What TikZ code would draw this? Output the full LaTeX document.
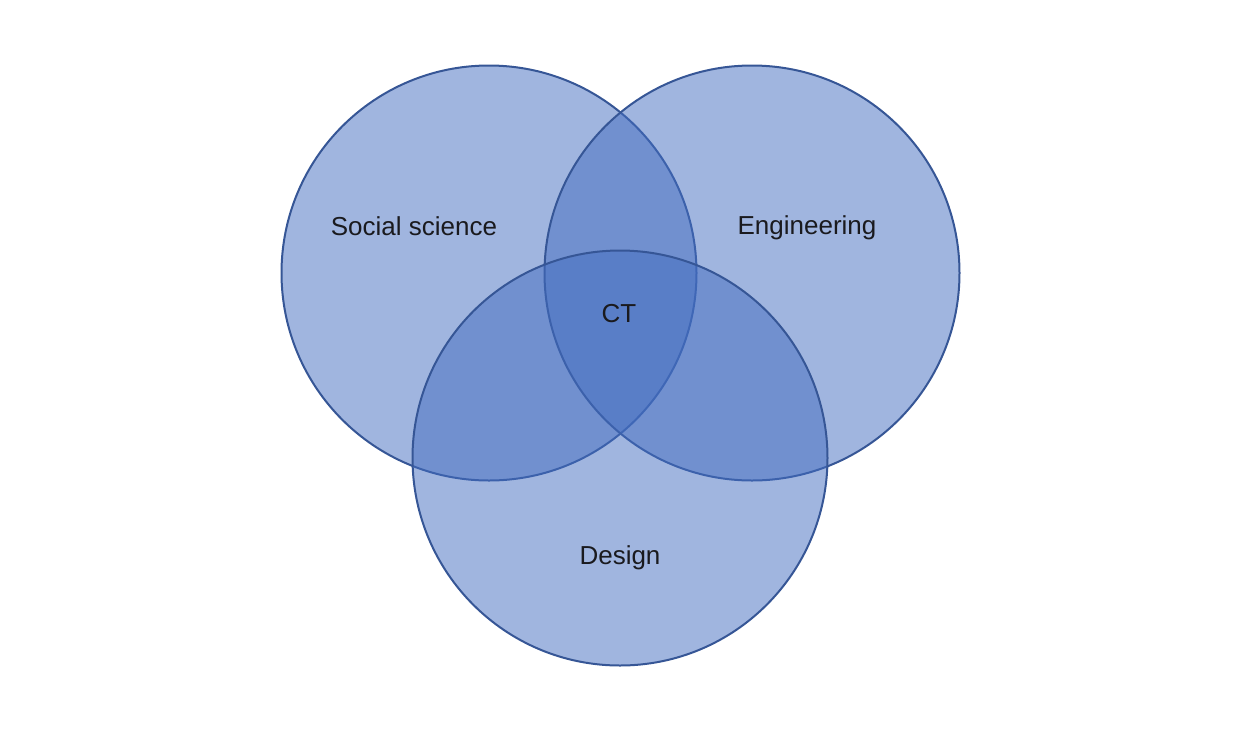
\documentclass[tikz,border=0pt]{standalone}
\usepackage{fontspec}
\setmainfont{Liberation Sans}
\usepackage{xcolor}
\definecolor{vennfill}{RGB}{67,109,193}
\definecolor{vennline}{RGB}{54,86,150}
\definecolor{venntext}{RGB}{26,26,30}

\tikzset{
	setcircle/.style={fill=vennfill,fill opacity=0.5,draw=vennline,draw opacity=1,line width=2pt},
	setlabel/.style={text=venntext,font=\fontsize{26}{30}\selectfont,inner sep=0pt}
}

\begin{document}
\begin{tikzpicture}[x=1pt,y=-1pt]
	\useasboundingbox (0,0) rectangle (1240,732) ;
	\fill[white] (0,0) rectangle (1240,732) ;
	\draw[setcircle] (489,273) circle (207.5) ;
	\draw[setcircle] (752,273) circle (207.5) ;
	\draw[setcircle] (620,458) circle (207.5) ;
	\node[setlabel] (social) at (414,226) {Social science} ;
	\node[setlabel] (engineering) at (807,228) {Engineering} ;
	\node[setlabel] (ct) at (619,314) {CT} ;
	\node[setlabel] (design) at (620,558) {Design} ;
\end{tikzpicture}
\end{document}
